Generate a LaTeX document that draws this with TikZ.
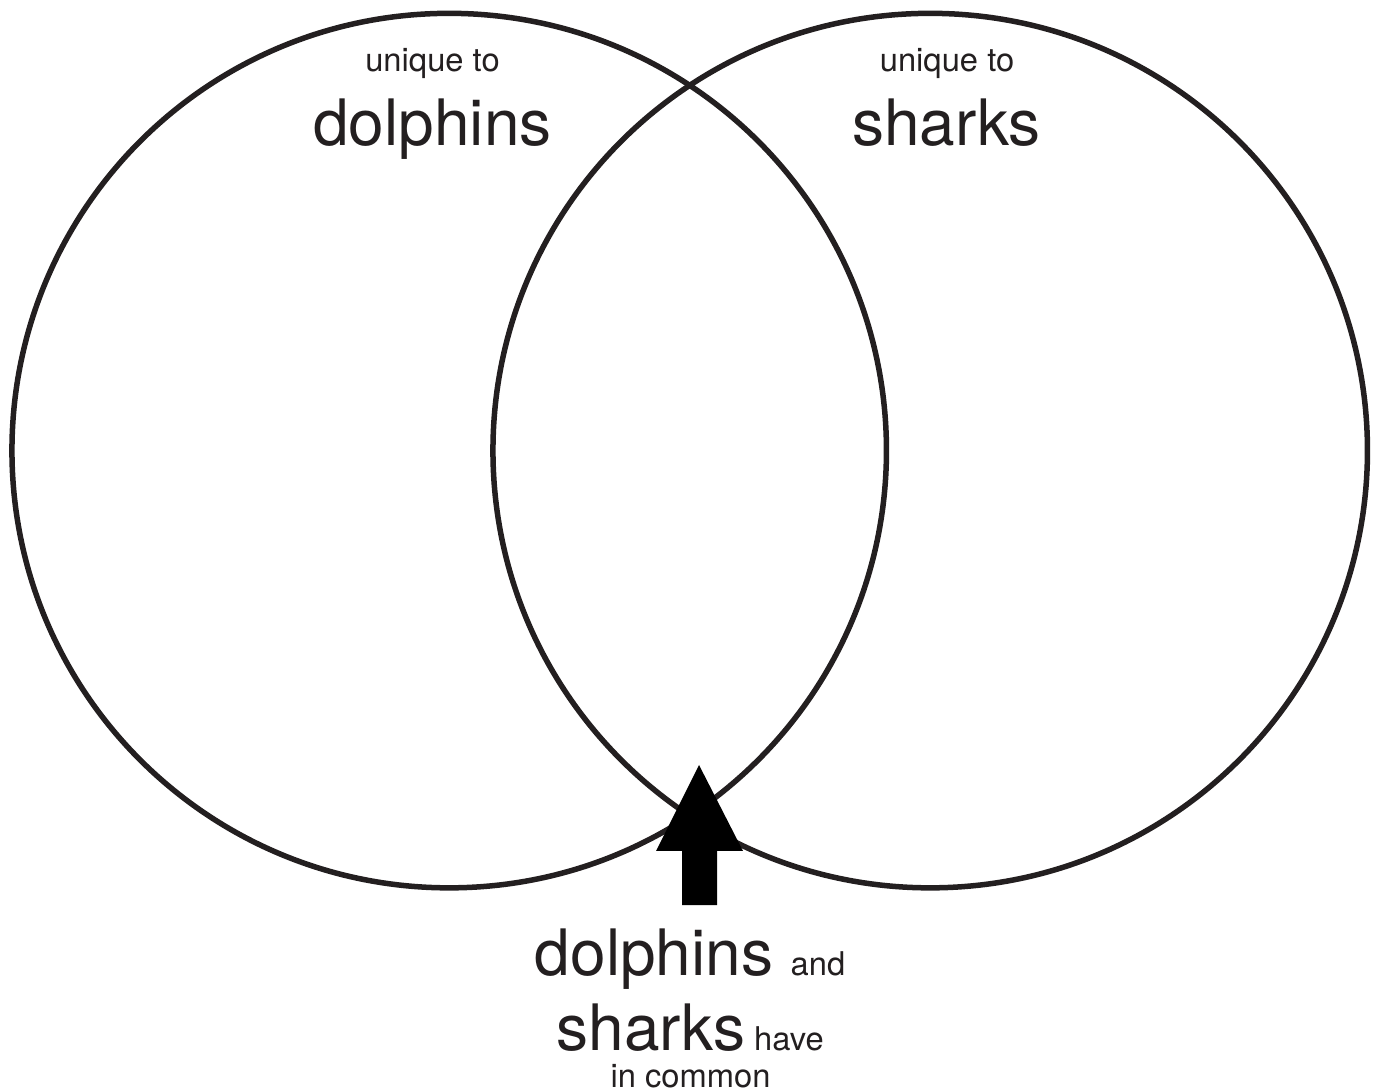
\documentclass[tikz,border=0pt]{standalone}
\usepackage{fontspec}
\setmainfont{TeX Gyre Heros}
\usetikzlibrary{positioning}
\definecolor{inkcol}{RGB}{35,31,32}

\begin{document}
\begin{tikzpicture}[
    x=0.01cm, y=-0.01cm,
    setring/.style={circle, draw=inkcol, line width=0.055cm, minimum size=8.74cm, inner sep=0pt},
    smalltxt/.style={font=\fontsize{9.3}{11}\selectfont, text=inkcol, anchor=base, inner sep=0pt},
    bigtxt/.style={font=\fontsize{18.2}{21}\selectfont, text=inkcol, anchor=base, inner sep=0pt},
]
\useasboundingbox (0,0) rectangle (1376,1089);

\node[setring] (dolph) at (449.2,450.6) {};
\node[setring] (shark) at (930.2,450.6) {};

\node[smalltxt] (uniqD) at (432.5,72) {unique to};
\node[bigtxt] (nameD) at (432.5,146) {dolphins};
\node[smalltxt] (uniqS) at (947,72) {unique to};
\node[bigtxt] (nameS) at (946.5,146) {sharks};

% arrow up to the overlap
\coordinate (tip) at (699,765);
\fill[black] (tip) -- (743,851) -- (717,851) -- (717,905) -- (682,905) -- (682,851) -- (656,851) -- cycle;

\node[bigtxt] (commD) at (654,975) {dolphins};
\node[smalltxt] (commAnd) at (818,975) {and};
\node[bigtxt] (commS) at (651,1050) {sharks};
\node[smalltxt] (commHave) at (789,1050) {have};
\node[smalltxt] (commIn) at (690.5,1087) {in common};
\end{tikzpicture}
\end{document}
